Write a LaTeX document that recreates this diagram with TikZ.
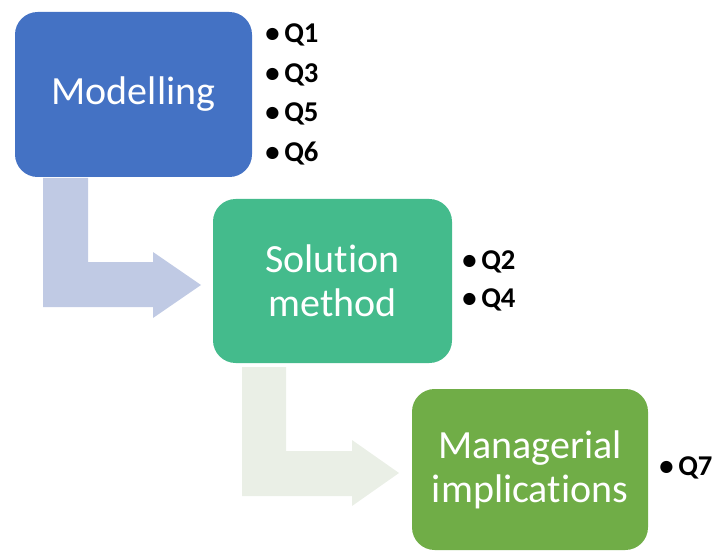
\documentclass[tikz,border=0pt]{standalone}
\usepackage{fontspec}
\setmainfont{Carlito}[Ligatures=NoCommon]
\begin{document}
\begin{tikzpicture}[x=0.75pt,y=-0.75pt,
  stage/.style={rounded corners=17pt, text=white, align=center,
    font=\fontsize{30pt}{33pt}\selectfont, inner sep=0pt},
  item/.style={anchor=west, inner sep=0pt, font=\fontsize{21.5pt}{24pt}\selectfont\bfseries}]
\useasboundingbox (0,0) rectangle (716,552);
\definecolor{cModel}{HTML}{4472C4}
\definecolor{cSolve}{HTML}{44BB8C}
\definecolor{cManag}{HTML}{70AD47}
\definecolor{cArrowA}{HTML}{C0CAE4}
\definecolor{cArrowB}{HTML}{EAEFE6}

% bent block arrows between the stages
\fill[cArrowA] (43,178) -- (88,178) -- (88,262) -- (153,262) -- (153,252)
  -- (201,285) -- (153,318) -- (153,307) -- (43,307) -- cycle;
\fill[cArrowB] (242,367) -- (286,367) -- (286,451) -- (352,451) -- (352,440)
  -- (399,473) -- (352,506) -- (352,496) -- (242,496) -- cycle;

% stages
\node[stage, fill=cModel, minimum width=177.75pt, minimum height=123.75pt] (model) at (133.5,94.5) {Modelling};
\node[stage, fill=cSolve, minimum width=179.25pt, minimum height=123pt] (solve) at (332.5,281) {Solution\\method};
\node[stage, fill=cManag, minimum width=177pt, minimum height=120.75pt] (manag) at (530,469.5) {Managerial\\implications};

% question lists
\node[item] (q1) at (265,35) {•\,Q1};
\node[item] (q3) at (265,74.5) {•\,Q3};
\node[item] (q5) at (265,114) {•\,Q5};
\node[item] (q6) at (265,153.5) {•\,Q6};
\node[item] (q2) at (462,262) {•\,Q2};
\node[item] (q4) at (462,300) {•\,Q4};
\node[item] (q7) at (659,468) {•\,Q7};
\end{tikzpicture}
\end{document}
